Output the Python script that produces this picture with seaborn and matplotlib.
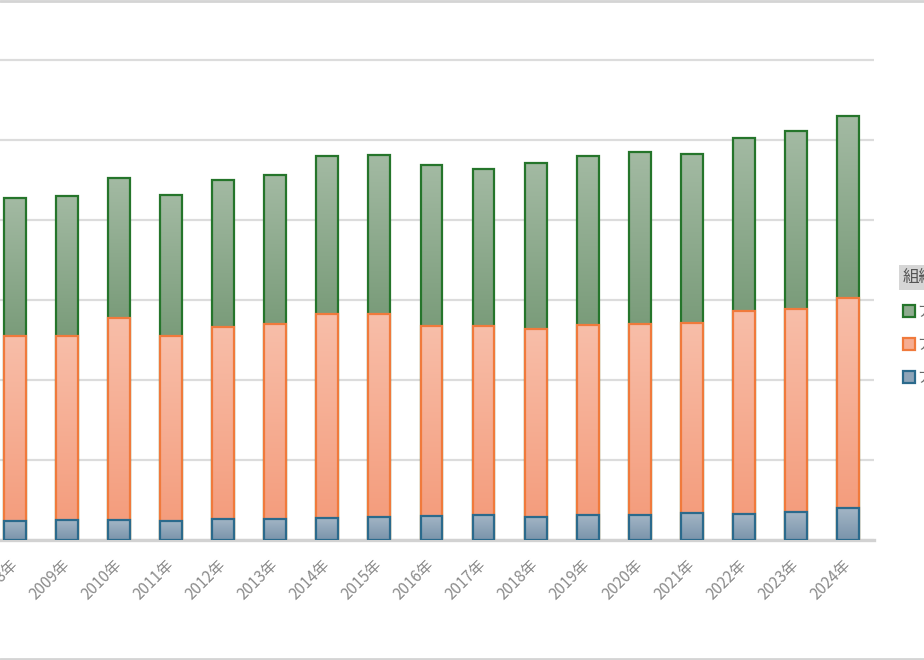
import numpy as np
import pandas as pd
import matplotlib
matplotlib.use("Agg")
import matplotlib.pyplot as plt
import seaborn as sns
from matplotlib.colors import LinearSegmentedColormap
from matplotlib.patches import Patch
from matplotlib.lines import Line2D

# ---------------- data ----------------
years = [f"{y}年" for y in range(2008, 2025)]
blue_vals = [238, 254, 246, 238, 263, 266, 275, 291, 304, 316, 291, 316, 313, 338, 325, 346, 404]
orange_vals = [2309, 2293, 2533, 2309, 2404, 2434, 2550, 2534, 2371, 2355, 2346, 2368, 2384, 2371, 2538, 2545, 2625]
green_vals = [1725, 1754, 1750, 1770, 1830, 1866, 1975, 1984, 2009, 1963, 2071, 2113, 2150, 2116, 2166, 2225, 2271]
legend_title = "組織区分"
series_labels = ["ア 企業", "ア 大学等", "ア 公的機関"]  # green, orange, blue

# ---------------- style ----------------
sns.set_theme(style="white")
plt.rcParams['font.family'] = ['Noto Sans CJK JP', 'DejaVu Sans']

W, H = 924, 660
fig = plt.figure(figsize=(W / 100, H / 100), dpi=100)
ax = fig.add_axes([-11.1 / W, 120 / H, 885.1 / W, 520 / H])

df = pd.DataFrame({"year": years, "blue": blue_vals, "orange": orange_vals, "green": green_vals})
df["c1"] = df["blue"]
df["c2"] = df["blue"] + df["orange"]
df["c3"] = df["c2"] + df["green"]

layers = [
    # top col, bottom col, mid colour, edge, gradient top, gradient bottom
    ("c3", "c2", "#8fab8f", "#25752b", "#a3baa3", "#7a9c7a"),
    ("c2", "c1", "#f6ad92", "#f07a3c", "#f8bea9", "#f49d7d"),
    ("c1", None, "#8ea4b8", "#2b6a8c", "#a4b6c6", "#7a94ab"),
]
grad = np.linspace(0, 1, 256).reshape(-1, 1)

for i, (top, bottom, mid, edge, ctop, cbot) in enumerate(layers):
    n_before = len(ax.patches)
    sns.barplot(data=df, x="year", y=top, color=mid, width=0.42, saturation=1,
                edgecolor=edge, linewidth=1.6, ax=ax, zorder=2 + i)
    cmap = LinearSegmentedColormap.from_list(f"g{i}", [cbot, ctop])
    for j, p in enumerate(ax.patches[n_before:]):
        p.set_facecolor("none")
        p.set_zorder(2 + i + 0.5)
        x0, w = p.get_x(), p.get_width()
        y1 = df[top].iloc[j]
        y0 = df[bottom].iloc[j] if bottom else 0
        ax.imshow(grad, extent=(x0, x0 + w, y0, y1), cmap=cmap, aspect="auto",
                  origin="lower", zorder=2 + i + 0.2, interpolation="bilinear")

ax.set_xlim(-0.5, len(years) - 0.5)
ax.set_ylim(0, 6500)
ax.set_yticks(range(0, 7000, 1000))
ax.yaxis.grid(True, color="#dcdcdc", linewidth=1.6)
ax.set_axisbelow(True)
ax.tick_params(axis="y", left=False, labelleft=False)
ax.tick_params(axis="x", length=0, pad=16, labelsize=11, labelcolor="#8a8a8a")
for lab in ax.get_xticklabels():
    lab.set_rotation(45)
    lab.set_ha("right")
    lab.set_va("center")
    lab.set_rotation_mode("anchor")
ax.set_xlabel("")
ax.set_ylabel("")
for s in ["top", "right", "left"]:
    ax.spines[s].set_visible(False)
ax.spines["bottom"].set_color("#d2d2d2")
ax.spines["bottom"].set_linewidth(2.4)

# legend (top segment first)
handles = [Patch(facecolor=l[2], edgecolor=l[3], linewidth=1.6) for l in layers]
leg = ax.legend(handles, series_labels, title=legend_title,
                loc="upper left", bbox_to_anchor=(903 / W, 1 - 269 / H),
                bbox_transform=fig.transFigure, frameon=False,
                fontsize=10.5, title_fontsize=12, handlelength=0.85, handleheight=0.85,
                handletextpad=0.2, labelspacing=1.3, borderpad=0, borderaxespad=0,
                alignment="left")
leg.get_title().set_color("#555555")
leg.get_title().set_bbox(dict(facecolor="#d6d6d6", edgecolor="none", pad=3))
for t in leg.get_texts():
    t.set_color("#666666")

# figure frame lines (top / bottom)
fig.add_artist(Line2D([0, 1], [1 - 1 / H] * 2, transform=fig.transFigure, color="#d4d4d4", lw=2))
fig.add_artist(Line2D([0, 1], [1.5 / H] * 2, transform=fig.transFigure, color="#d4d4d4", lw=2))

fig.savefig("out.png", dpi=100)
